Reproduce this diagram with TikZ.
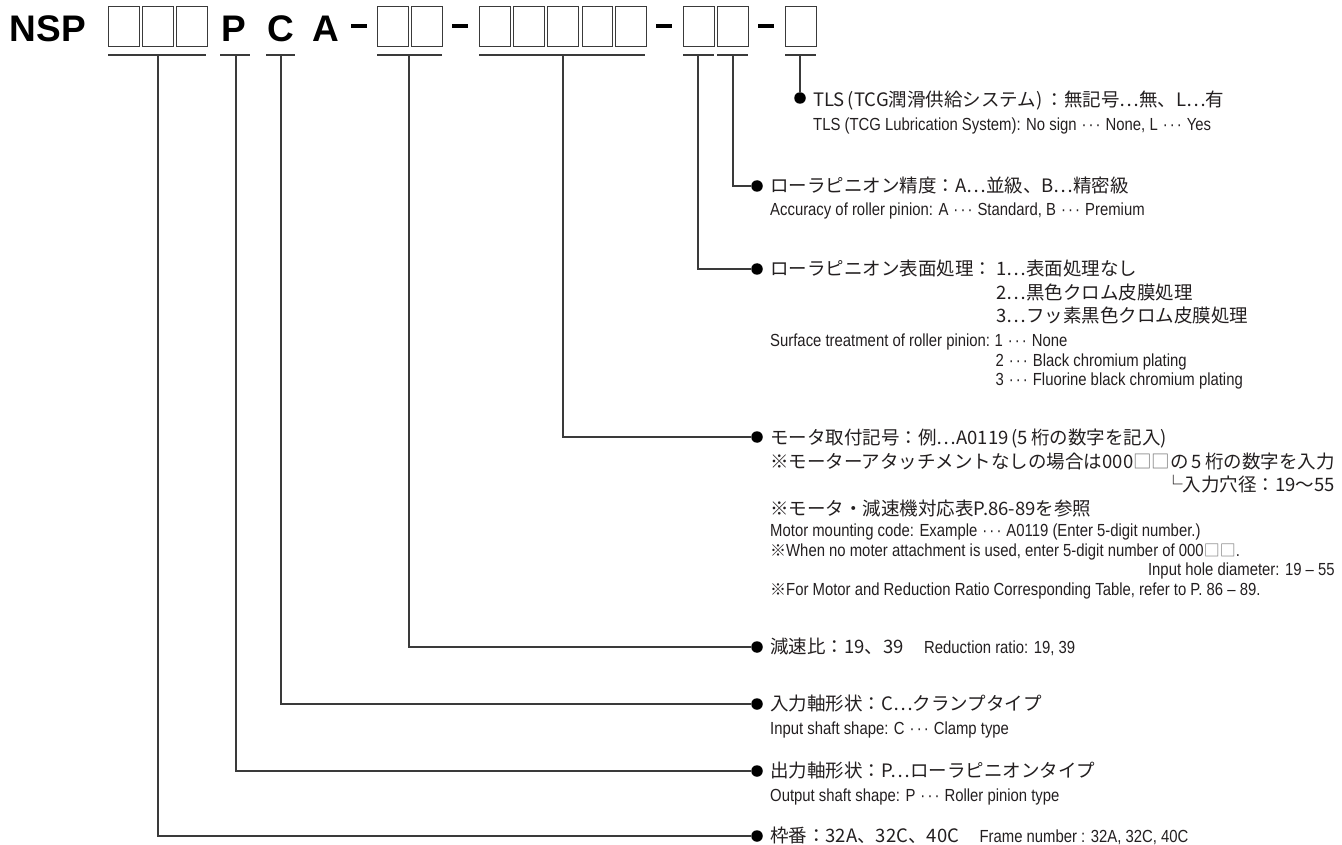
\documentclass[tikz,border=0pt]{standalone}
\usepackage{fontspec}
\usetikzlibrary{calc}
\setmainfont{Liberation Sans}
\newfontfamily\jpf{Noto Sans CJK JP}
\newfontfamily\enf[FakeStretch=0.85]{Liberation Sans}
\newfontfamily\hdf{Liberation Sans}
\definecolor{ln}{HTML}{3A3A3A}
\definecolor{tx}{HTML}{231F20}
\newcommand\dd{\kern0.05em·\kern0.12em·\kern0.12em·\kern0.05em}
\newcommand\jsq{{\jpf\color{black!55}□□}}
\newcommand\enjp[1]{{\jpf\fontsize{16}{18}\selectfont #1}}
\begin{document}
\begin{tikzpicture}[x=1pt,y=-1pt,
  cbox/.style={draw=ln, line width=1pt, minimum width=30.5pt, minimum height=40pt, inner sep=0pt, anchor=north west},
  uline/.style={draw=ln, line width=1.1pt},
  conn/.style={draw=ln, line width=1.2pt},
  dotn/.style={circle, fill=black, inner sep=0pt, minimum size=11.5pt},
  hyph/.style={fill=black, inner sep=0pt, minimum width=16pt, minimum height=3.5pt},
  jpt/.style={anchor=base west, inner sep=0pt, font=\jpf\fontsize{18.5}{22}\selectfont, text=tx},
  ent/.style={anchor=base west, inner sep=0pt, font=\enf\fontsize{17.5}{20}\selectfont, text=tx},
  big/.style={anchor=base, inner sep=0pt, font=\hdf\bfseries\fontsize{37}{40}\selectfont, text=black}]
\useasboundingbox (0,0) rectangle (1342,845);

% ---------- header ----------
\node[big, anchor=base west] (nsp) at (9.5,42) {NSP};
\foreach \x [count=\i] in {108,142,176} \node[cbox] (a\i) at (\x,6) {};
\node[big] (lp) at (233.5,42) {P};
\node[big] (lc) at (281,42) {C};
\node[big] (la) at (326,42) {A};
\node[hyph] (h1) at (358.5,26) {};
\foreach \x [count=\i] in {377,411} \node[cbox] (b\i) at (\x,6) {};
\node[hyph] (h2) at (460,26) {};
\foreach \x [count=\i] in {479,513,547,581.5,615} \node[cbox] (c\i) at (\x,6) {};
\node[hyph] (h3) at (663.5,26) {};
\foreach \x [count=\i] in {683,717} \node[cbox] (e\i) at (\x,6) {};
\node[hyph] (h4) at (765.5,26) {};
\node[cbox] (f1) at (785,6) {};

% underlines
\draw[uline] (108,55) -- (206,55);
\draw[uline] (220,55) -- (250,55);
\draw[uline] (266,55) -- (295,55);
\draw[uline] (377,55) -- (442,55);
\draw[uline] (479,55) -- (645,55);
\draw[uline] (683,55) -- (713.5,55);
\draw[uline] (717,55) -- (747.5,55);
\draw[uline] (785,55) -- (815.5,55);

\coordinate (u1) at (158,55);
\coordinate (u2) at (236,55);
\coordinate (u3) at (281,55);
\coordinate (u4) at (409,55);
\coordinate (u5) at (563,55);
\coordinate (u6) at (698,55);
\coordinate (u7) at (733,55);
\coordinate (u8) at (800,55);

% dots
\node[dotn] (dtls) at (800,98) {};
\node[dotn] (dacc) at (757,186) {};
\node[dotn] (dsur) at (757,269) {};
\node[dotn] (dmot) at (757,437) {};
\node[dotn] (dred) at (757,647) {};
\node[dotn] (din)  at (757,704) {};
\node[dotn] (dout) at (757,771) {};
\node[dotn] (dfrm) at (757,836) {};

% connectors
\draw[conn] (u8) -- (dtls);
\draw[conn] (u7) |- (dacc);
\draw[conn] (u6) |- (dsur);
\draw[conn] (u5) |- (dmot);
\draw[conn] (u4) |- (dred);
\draw[conn] (u3) |- (din);
\draw[conn] (u2) |- (dout);
\draw[conn] (u1) |- (dfrm);

% ---------- texts ----------
\node[jpt] (tlsj) at (813,106.5) {TLS\,(TCG潤滑供給システム)\,：無記号…無、L…有};
\node[ent] (tlse) at (813,130.5) {TLS (TCG Lubrication System): No sign \dd{} None, L \dd{} Yes};

\node[jpt] (accj) at (770,192.5) {ローラピニオン精度：A…並級、B…精密級};
\node[ent] (acce) at (770,215.5) {Accuracy of roller pinion: A \dd{} Standard, B \dd{} Premium};

\node[jpt] (surj) at (770,275.5) {ローラピニオン表面処理：};
\node[jpt] (sur1) at ([xshift=4pt]surj.base east) {1…表面処理なし};
\node[jpt] (sur2) at ($(sur1.base west)+(0,23.5)$) {2…黒色クロム皮膜処理};
\node[jpt] (sur3) at ($(sur2.base west)+(0,23.5)$) {3…フッ素黒色クロム皮膜処理};
\node[ent] (sure) at (770,346.5) {Surface treatment of roller pinion:};
\node[ent] (sure1) at ([xshift=4pt]sure.base east) {1 \dd{} None};
\node[ent] (sure2) at ($(sure1.base west)+(1,19.5)$) {2 \dd{} Black chromium plating};
\node[ent] (sure3) at ($(sure2.base west)+(0,19.5)$) {3 \dd{} Fluorine black chromium plating};

\node[jpt] (mot1) at (770,444.5) {モータ取付記号：例…A0119\,(5\,桁の数字を記入)};
\node[jpt] (mot2) at (770,468) {※モーターアタッチメントなしの場合は000\jsq の\,5\,桁の数字を入力};
\node[jpt, anchor=base east] (mot3) at ($(mot2.base east)+(0,23.5)$) {└入力穴径：19〜55};
\node[jpt] (mot4) at (770,515) {※モータ・減速機対応表P.86-89を参照};
\node[ent] (mote1) at (770,536.5) {Motor mounting code: Example \dd{} A0119 (Enter 5-digit number.)};
\node[ent] (mote2) at (770,556) {\enjp{※}When no moter attachment is used, enter 5-digit number of 000\enjp{\color{black!55}□□}.};
\node[ent, anchor=base east] (mote3) at ($(mot2.base east |- mote2.base)+(0,19.5)$) {Input hole diameter: 19 – 55};
\node[ent] (mote4) at (770,595) {\enjp{※}For Motor and Reduction Ratio Corresponding Table, refer to P. 86 – 89.};

\node[jpt] (redj) at (770,653.5) {減速比：19、39};
\node[ent] (rede) at ([xshift=20pt]redj.base east) {Reduction ratio: 19, 39};

\node[jpt] (inj) at (770,710.5) {入力軸形状：C…クランプタイプ};
\node[ent] (ine) at (770,734.5) {Input shaft shape: C \dd{} Clamp type};

\node[jpt] (outj) at (770,777.5) {出力軸形状：P…ローラピニオンタイプ};
\node[ent] (oute) at (770,801.5) {Output shaft shape: P \dd{} Roller pinion type};

\node[jpt] (frmj) at (770,842.5) {枠番：32A、32C、40C};
\node[ent] (frme) at ([xshift=20pt]frmj.base east) {Frame number : 32A, 32C, 40C};
\end{tikzpicture}
\end{document}
